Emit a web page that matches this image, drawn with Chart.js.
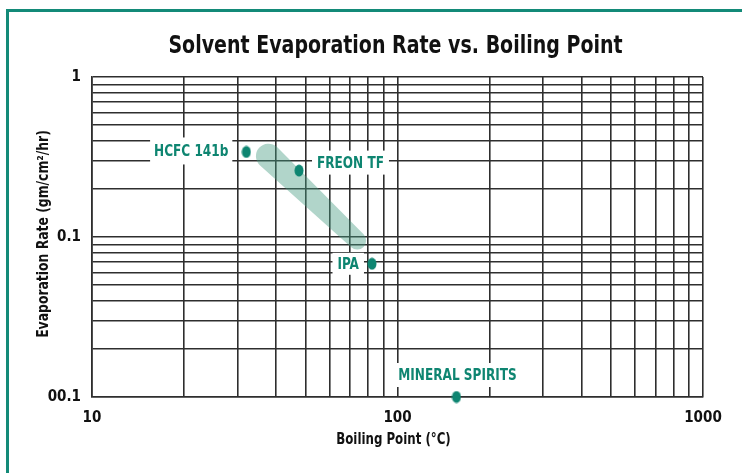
<!DOCTYPE html>
<html>
<head>
<meta charset="utf-8">
<script src="https://cdn.jsdelivr.net/npm/chart.js@4.4.1/dist/chart.umd.min.js"></script>
<style>
  html, body { margin: 0; padding: 0; background: #fff; }
  #wrap { position: relative; width: 742px; height: 473px; overflow: hidden; }
  #frame { position: absolute; left: 6px; top: 9px; width: 800px; height: 520px;
           border-left: 3px solid #138a78; border-top: 3px solid #138a78; }
  #chart { position: absolute; left: 0; top: 0; }
</style>
</head>
<body>
<div id="wrap">
  <div id="frame"></div>
  <canvas id="chart" width="742" height="473"></canvas>
</div>
<script>
// Solvents and their boiling point (°C) / evaporation rate (gm/cm²/hr)
const solvents = ['HCFC 141b', 'FREON TF', 'IPA', 'MINERAL SPIRITS'];
const boilingPoints = [32, 47.6, 82.5, 156];
const evapRates = [0.34, 0.26, 0.068, 0.01];

// Shaded band between HCFC 141b / FREON TF and IPA (cap centres in data units)
const bandX = [37.8, 73.8];
const bandY = [0.32, 0.095];

// Log grid lines and the labelled decades
const xGridValues = [10, 20, 30, 40, 50, 60, 70, 80, 90,
                     100, 200, 300, 400, 500, 600, 700, 800, 900, 1000];
const yGridValues = [0.01, 0.02, 0.03, 0.04, 0.05, 0.06, 0.07, 0.08, 0.09,
                     0.1, 0.2, 0.3, 0.4, 0.5, 0.6, 0.7, 0.8, 0.9, 1];
const xDecades = [10, 100, 1000];
const xTickLabels = ['10', '100', '1000'];
const yDecades = [0.01, 0.1, 1];
const yTickLabels = ['00.1', '0.1', '1'];

const chartTitle = 'Solvent Evaporation Rate vs. Boiling Point';
const xAxisTitle = 'Boiling Point (°C)';
const yAxisTitle = 'Evaporation Rate (gm/cm²/hr)';

const FONT = '"DejaVu Sans Condensed", "DejaVu Sans", sans-serif';
const TEAL = '#0e8571';
const INK = '#111';
const GRID = '#2e2e2e';

// Label placement relative to each point (pixels)
const labelLayout = [
  { align: 'right',  dx: -18, dy: -1,  padX: 4, h: 27 },
  { align: 'left',   dx: 18,  dy: -8,  padX: 5, h: 24 },
  { align: 'right',  dx: -13, dy: 0,   padX: 5, h: 22 },
  { align: 'center', dx: 1,   dy: -22, padX: 6, h: 24 }
];

// Narrow bold text: draw with a horizontal squeeze
function drawNarrow(ctx, text, x, y, opts) {
  const { size, squeeze, align = 'center', rotate = 0, color = INK } = opts;
  ctx.save();
  ctx.translate(x, y);
  ctx.rotate(rotate);
  ctx.scale(squeeze, 1);
  ctx.font = 'bold ' + size + 'px ' + FONT;
  ctx.fillStyle = color;
  ctx.textAlign = align;
  ctx.textBaseline = 'middle';
  ctx.fillText(text, 0, 0);
  ctx.restore();
}
function narrowWidth(ctx, text, size, squeeze) {
  ctx.save();
  ctx.font = 'bold ' + size + 'px ' + FONT;
  const w = ctx.measureText(text).width * squeeze;
  ctx.restore();
  return w;
}

// Slightly tall elliptical marker
function makeMarker() {
  const c = document.createElement('canvas');
  c.width = 10; c.height = 13;
  const g = c.getContext('2d');
  g.fillStyle = TEAL;
  g.beginPath();
  g.ellipse(5, 6.5, 4.5, 6, 0, 0, Math.PI * 2);
  g.fill();
  return c;
}

const bandPlugin = {
  id: 'solventBand',
  beforeDatasetsDraw(chart) {
    const { ctx, scales: { x, y } } = chart;
    const x1 = x.getPixelForValue(bandX[0]), y1 = y.getPixelForValue(bandY[0]);
    const x2 = x.getPixelForValue(bandX[1]), y2 = y.getPixelForValue(bandY[1]);
    const r1 = 12.5, r2 = 9;
    const d = Math.hypot(x2 - x1, y2 - y1);
    const th = Math.atan2(y2 - y1, x2 - x1);
    const phi = Math.acos((r1 - r2) / d);
    ctx.save();
    ctx.fillStyle = 'rgba(70, 155, 128, 0.42)';
    ctx.beginPath();
    ctx.arc(x1, y1, r1, th + phi, th - phi + Math.PI * 2, false);
    ctx.arc(x2, y2, r2, th - phi, th + phi, false);
    ctx.closePath();
    ctx.fill();
    ctx.restore();
  }
};

const labelPlugin = {
  id: 'solventLabels',
  afterDatasetsDraw(chart) {
    const { ctx, scales: { x, y } } = chart;
    const size = 16, squeeze = 0.84;
    solvents.forEach((name, i) => {
      const px = x.getPixelForValue(boilingPoints[i]);
      const py = y.getPixelForValue(evapRates[i]);
      const o = labelLayout[i];
      const w = narrowWidth(ctx, name, size, squeeze);
      let left = px + o.dx;
      if (o.align === 'right') left -= w;
      else if (o.align === 'center') left -= w / 2;
      const cy = py + o.dy;
      ctx.save();
      ctx.fillStyle = '#fff';
      ctx.fillRect(left - o.padX, cy - o.h / 2, w + o.padX * 2, o.h);
      ctx.restore();
      drawNarrow(ctx, name, left, cy + 1, { size, squeeze, align: 'left', color: TEAL });
    });
  }
};

// Chart title and axis titles
const titlesPlugin = {
  id: 'titles',
  afterDraw(chart) {
    const { ctx, chartArea: a } = chart;
    const cx = (a.left + a.right) / 2;
    const cy = (a.top + a.bottom) / 2;
    drawNarrow(ctx, chartTitle, cx - 2, a.top - 31, { size: 25, squeeze: 0.845 });
    drawNarrow(ctx, xAxisTitle, cx - 4, a.bottom + 43, { size: 16, squeeze: 0.82 });
    drawNarrow(ctx, yAxisTitle, 44, cy - 3, { size: 16, squeeze: 0.86, rotate: -Math.PI / 2 });
  }
};

new Chart(document.getElementById('chart'), {
  type: 'scatter',
  data: {
    datasets: [{
      label: 'Solvents',
      data: boilingPoints.map((bp, i) => ({ x: bp, y: evapRates[i] })),
      pointStyle: makeMarker(),
      backgroundColor: TEAL,
      borderColor: TEAL,
      clip: false
    }]
  },
  options: {
    responsive: false,
    animation: false,
    layout: { padding: { left: 0, right: 39, top: 77, bottom: 0 } },
    plugins: {
      legend: { display: false },
      tooltip: { enabled: false },
      title: { display: false }
    },
    scales: {
      x: {
        type: 'logarithmic',
        min: 10, max: 1000,
        afterBuildTicks(scale) { scale.ticks = xGridValues.map(v => ({ value: v })); },
        afterFit(scale) { scale.height = 76; },
        grid: { color: GRID, lineWidth: 1.6, drawTicks: false },
        border: { display: true, color: GRID, width: 1.6 },
        ticks: {
          autoSkip: false, maxRotation: 0, minRotation: 0, padding: 12,
          color: INK,
          font: { family: FONT, size: 15, weight: 'bold' },
          callback(v) { const i = xDecades.indexOf(v); return i >= 0 ? xTickLabels[i] : ''; }
        }
      },
      y: {
        type: 'logarithmic',
        min: 0.01, max: 1,
        afterBuildTicks(scale) { scale.ticks = yGridValues.map(v => ({ value: v })); },
        afterFit(scale) { scale.width = 92; },
        grid: { color: GRID, lineWidth: 1.6, drawTicks: false },
        border: { display: true, color: GRID, width: 1.6 },
        ticks: {
          autoSkip: false, padding: 11,
          color: INK,
          font: { family: FONT, size: 15, weight: 'bold' },
          callback(v) { const i = yDecades.indexOf(v); return i >= 0 ? yTickLabels[i] : ''; }
        }
      }
    }
  },
  plugins: [bandPlugin, labelPlugin, titlesPlugin]
});
</script>
</body>
</html>
